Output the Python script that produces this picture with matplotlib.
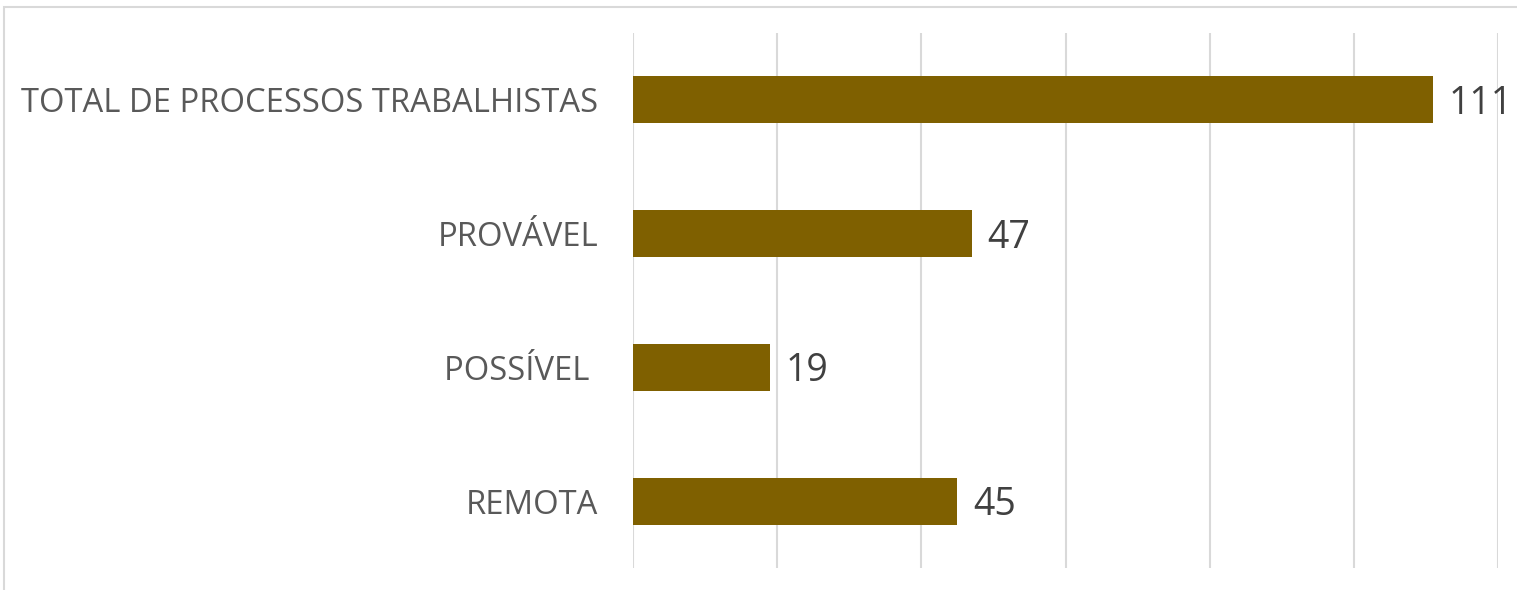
import matplotlib.pyplot as plt
from matplotlib.patches import Rectangle

# data (top to bottom as in the chart)
categories = ['TOTAL DE PROCESSOS TRABALHISTAS', 'PROVÁVEL', 'POSSÍVEL ', 'REMOTA']
values = [111, 47, 19, 45]

plt.rcParams['font.family'] = ['Open Sans', 'DejaVu Sans']

fig = plt.figure(figsize=(15.17, 5.9), dpi=100)
ax = fig.add_axes([633 / 1517, 1 - 568 / 590, (1498 - 633) / 1517, (568 - 33) / 590])

# outer chart frame
fig.patches.append(Rectangle((4 / 1517, -0.1), 1.2, 1 - 7 / 590 + 0.1, transform=fig.transFigure,
                             fill=False, edgecolor='#d9d9d9', linewidth=1.5))

ypos = list(range(len(categories)))
ax.barh(ypos, values, height=0.35, color='#7f6000', zorder=2)
for y, v in zip(ypos, values):
    ax.text(v + 2.2, y + 0.03, str(v), va='center', ha='left', fontsize=27, color='#404040')

ax.set_xlim(0, 120)
ax.set_ylim(3.5, -0.5)
ax.set_xticks(range(0, 121, 20))
ax.set_xticklabels([])
ax.set_yticks(ypos)
ax.set_yticklabels(categories, fontsize=23.6, color='#595959')
ax.tick_params(axis='both', length=0)
ax.tick_params(axis='y', pad=25)
ax.grid(axis='x', color='#d9d9d9', linewidth=1.5, zorder=0)
for s in ax.spines.values():
    s.set_visible(False)

plt.savefig('out.png', dpi=100)
